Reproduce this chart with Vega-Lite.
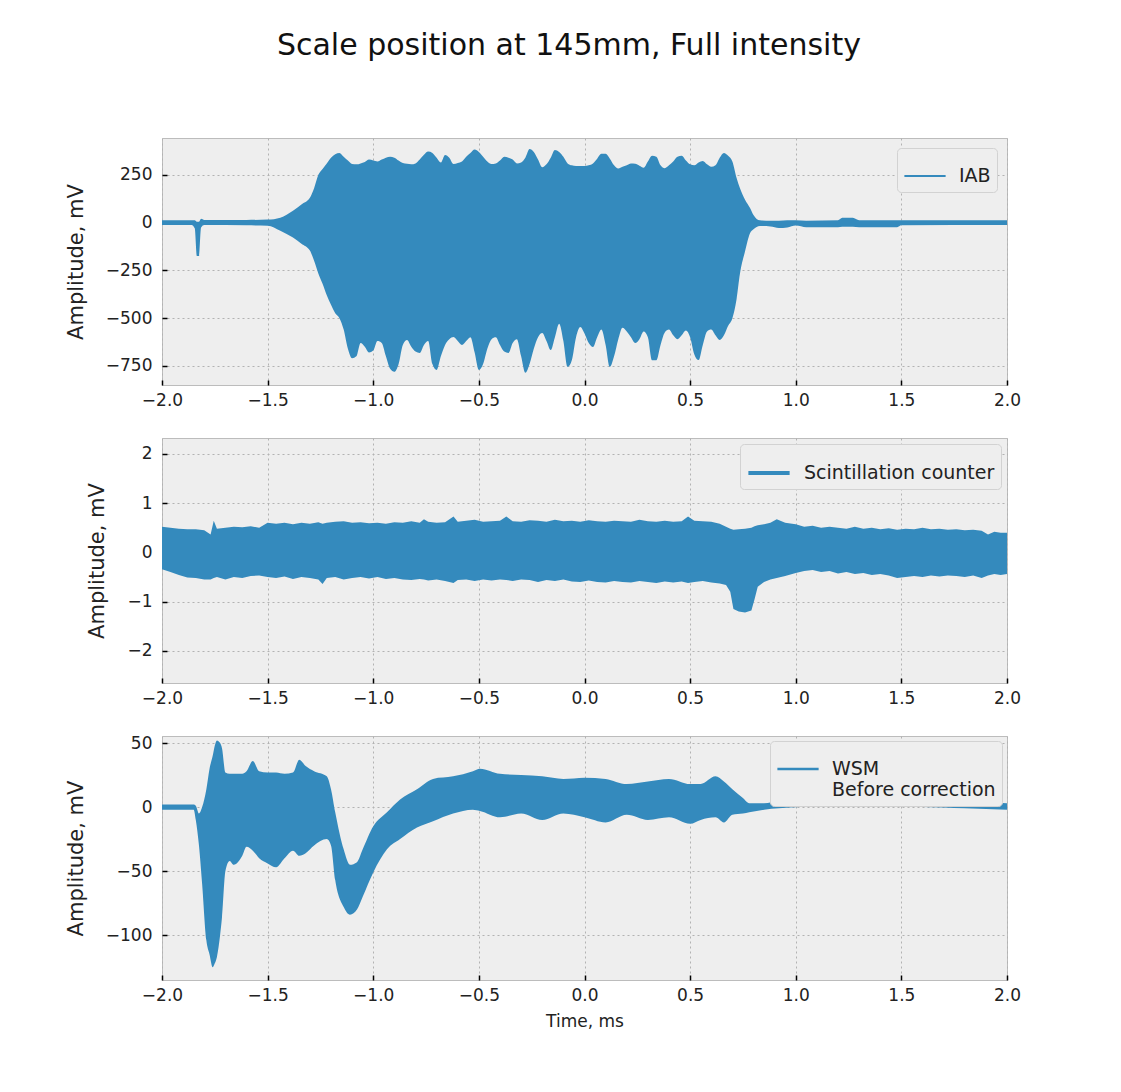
{
  "$schema": "https://vega.github.io/schema/vega-lite/v6.json",
  "background": "white",
  "padding": {"left": 64, "top": 30, "right": 30, "bottom": 40},
  "title": {"text": "Scale position at 145mm, Full intensity", "fontSize": 30, "font": "DejaVu Sans", "fontWeight": "normal", "anchor": "middle", "offset": 77, "dx": 26, "color": "#111"},
  "datasets": {
    "iab": [
      {"t": -2.00, "hi": 12, "lo": -12}, {"t": -1.86, "hi": 12, "lo": -12}, {"t": -1.845, "hi": 12, "lo": -30},
      {"t": -1.835, "hi": 5, "lo": -175}, {"t": -1.825, "hi": 5, "lo": -175}, {"t": -1.815, "hi": 20, "lo": -25},
      {"t": -1.80, "hi": 14, "lo": -12}, {"t": -1.60, "hi": 14, "lo": -14}, {"t": -1.50, "hi": 16, "lo": -16},
      {"t": -1.44, "hi": 26, "lo": -42}, {"t": -1.38, "hi": 62, "lo": -78}, {"t": -1.34, "hi": 95, "lo": -110},
      {"t": -1.30, "hi": 130, "lo": -146}, {"t": -1.28, "hi": 180, "lo": -200}, {"t": -1.26, "hi": 250, "lo": -266},
      {"t": -1.24, "hi": 281, "lo": -320}, {"t": -1.22, "hi": 310, "lo": -380}, {"t": -1.20, "hi": 340, "lo": -430},
      {"t": -1.18, "hi": 358, "lo": -474}, {"t": -1.16, "hi": 365, "lo": -500}, {"t": -1.14, "hi": 345, "lo": -560},
      {"t": -1.12, "hi": 325, "lo": -660}, {"t": -1.10, "hi": 307, "lo": -710}, {"t": -1.08, "hi": 305, "lo": -700},
      {"t": -1.06, "hi": 310, "lo": -630}, {"t": -1.04, "hi": 318, "lo": -650}, {"t": -1.02, "hi": 330, "lo": -680},
      {"t": -1.00, "hi": 325, "lo": -670}, {"t": -0.98, "hi": 320, "lo": -620}, {"t": -0.96, "hi": 330, "lo": -630},
      {"t": -0.94, "hi": 340, "lo": -700}, {"t": -0.92, "hi": 345, "lo": -765}, {"t": -0.90, "hi": 340, "lo": -781},
      {"t": -0.88, "hi": 325, "lo": -740}, {"t": -0.86, "hi": 312, "lo": -640}, {"t": -0.84, "hi": 308, "lo": -615},
      {"t": -0.82, "hi": 305, "lo": -650}, {"t": -0.80, "hi": 310, "lo": -675}, {"t": -0.78, "hi": 330, "lo": -682},
      {"t": -0.76, "hi": 355, "lo": -640}, {"t": -0.74, "hi": 372, "lo": -620}, {"t": -0.72, "hi": 365, "lo": -740},
      {"t": -0.70, "hi": 340, "lo": -771}, {"t": -0.68, "hi": 315, "lo": -700}, {"t": -0.66, "hi": 354, "lo": -640},
      {"t": -0.64, "hi": 340, "lo": -610}, {"t": -0.62, "hi": 307, "lo": -599}, {"t": -0.60, "hi": 312, "lo": -620},
      {"t": -0.58, "hi": 320, "lo": -640}, {"t": -0.56, "hi": 345, "lo": -620}, {"t": -0.54, "hi": 365, "lo": -600},
      {"t": -0.52, "hi": 383, "lo": -680}, {"t": -0.50, "hi": 370, "lo": -771}, {"t": -0.48, "hi": 345, "lo": -740},
      {"t": -0.46, "hi": 320, "lo": -660}, {"t": -0.44, "hi": 307, "lo": -610}, {"t": -0.42, "hi": 310, "lo": -600},
      {"t": -0.40, "hi": 325, "lo": -640}, {"t": -0.38, "hi": 345, "lo": -675}, {"t": -0.36, "hi": 340, "lo": -682},
      {"t": -0.34, "hi": 330, "lo": -630}, {"t": -0.32, "hi": 310, "lo": -610}, {"t": -0.30, "hi": 315, "lo": -700},
      {"t": -0.28, "hi": 340, "lo": -786}, {"t": -0.26, "hi": 385, "lo": -740}, {"t": -0.24, "hi": 370, "lo": -660},
      {"t": -0.22, "hi": 330, "lo": -600}, {"t": -0.20, "hi": 290, "lo": -578}, {"t": -0.18, "hi": 305, "lo": -620},
      {"t": -0.16, "hi": 340, "lo": -667}, {"t": -0.14, "hi": 380, "lo": -600}, {"t": -0.12, "hi": 370, "lo": -530},
      {"t": -0.10, "hi": 345, "lo": -620}, {"t": -0.08, "hi": 310, "lo": -755}, {"t": -0.06, "hi": 300, "lo": -720},
      {"t": -0.04, "hi": 297, "lo": -600}, {"t": -0.02, "hi": 297, "lo": -547}, {"t": 0.00, "hi": 297, "lo": -580},
      {"t": 0.02, "hi": 300, "lo": -630}, {"t": 0.04, "hi": 310, "lo": -651}, {"t": 0.06, "hi": 335, "lo": -600},
      {"t": 0.08, "hi": 360, "lo": -560}, {"t": 0.10, "hi": 360, "lo": -640}, {"t": 0.12, "hi": 335, "lo": -755},
      {"t": 0.14, "hi": 300, "lo": -700}, {"t": 0.16, "hi": 283, "lo": -610}, {"t": 0.18, "hi": 292, "lo": -550},
      {"t": 0.20, "hi": 300, "lo": -570}, {"t": 0.22, "hi": 310, "lo": -600}, {"t": 0.24, "hi": 308, "lo": -630},
      {"t": 0.26, "hi": 298, "lo": -610}, {"t": 0.28, "hi": 287, "lo": -570}, {"t": 0.30, "hi": 320, "lo": -600},
      {"t": 0.32, "hi": 350, "lo": -720}, {"t": 0.34, "hi": 345, "lo": -720}, {"t": 0.36, "hi": 300, "lo": -640},
      {"t": 0.38, "hi": 285, "lo": -575}, {"t": 0.40, "hi": 300, "lo": -560}, {"t": 0.42, "hi": 320, "lo": -590},
      {"t": 0.44, "hi": 345, "lo": -610}, {"t": 0.46, "hi": 350, "lo": -590}, {"t": 0.48, "hi": 325, "lo": -565},
      {"t": 0.50, "hi": 305, "lo": -600}, {"t": 0.52, "hi": 300, "lo": -690}, {"t": 0.54, "hi": 315, "lo": -719},
      {"t": 0.56, "hi": 323, "lo": -640}, {"t": 0.58, "hi": 305, "lo": -570}, {"t": 0.60, "hi": 292, "lo": -560},
      {"t": 0.62, "hi": 300, "lo": -590}, {"t": 0.64, "hi": 340, "lo": -615}, {"t": 0.66, "hi": 365, "lo": -590},
      {"t": 0.68, "hi": 350, "lo": -540}, {"t": 0.70, "hi": 320, "lo": -500}, {"t": 0.72, "hi": 234, "lo": -400},
      {"t": 0.736, "hi": 180, "lo": -266}, {"t": 0.76, "hi": 120, "lo": -150}, {"t": 0.783, "hi": 78, "lo": -57},
      {"t": 0.80, "hi": 40, "lo": -35}, {"t": 0.83, "hi": 12, "lo": -18}, {"t": 0.88, "hi": 10, "lo": -20},
      {"t": 0.92, "hi": 10, "lo": -28}, {"t": 0.96, "hi": 12, "lo": -25}, {"t": 1.00, "hi": 12, "lo": -15},
      {"t": 1.05, "hi": 10, "lo": -24}, {"t": 1.20, "hi": 12, "lo": -24}, {"t": 1.22, "hi": 25, "lo": -22},
      {"t": 1.27, "hi": 25, "lo": -22}, {"t": 1.30, "hi": 12, "lo": -24}, {"t": 1.48, "hi": 12, "lo": -24},
      {"t": 1.50, "hi": 12, "lo": -14}, {"t": 2.00, "hi": 12, "lo": -12}
    ],
    "sc": [
      {"t": -2.00, "hi": 0.52, "lo": -0.34}, {"t": -1.96, "hi": 0.50, "lo": -0.40}, {"t": -1.92, "hi": 0.48, "lo": -0.46},
      {"t": -1.88, "hi": 0.47, "lo": -0.51}, {"t": -1.84, "hi": 0.47, "lo": -0.52}, {"t": -1.80, "hi": 0.45, "lo": -0.55},
      {"t": -1.77, "hi": 0.36, "lo": -0.55}, {"t": -1.755, "hi": 0.64, "lo": -0.52}, {"t": -1.74, "hi": 0.48, "lo": -0.50},
      {"t": -1.70, "hi": 0.50, "lo": -0.55}, {"t": -1.66, "hi": 0.52, "lo": -0.50}, {"t": -1.62, "hi": 0.51, "lo": -0.52},
      {"t": -1.58, "hi": 0.53, "lo": -0.48}, {"t": -1.54, "hi": 0.50, "lo": -0.47}, {"t": -1.50, "hi": 0.60, "lo": -0.50},
      {"t": -1.46, "hi": 0.58, "lo": -0.52}, {"t": -1.42, "hi": 0.60, "lo": -0.49}, {"t": -1.38, "hi": 0.57, "lo": -0.54},
      {"t": -1.34, "hi": 0.60, "lo": -0.50}, {"t": -1.30, "hi": 0.58, "lo": -0.52}, {"t": -1.26, "hi": 0.61, "lo": -0.55},
      {"t": -1.24, "hi": 0.58, "lo": -0.64}, {"t": -1.22, "hi": 0.60, "lo": -0.52}, {"t": -1.18, "hi": 0.62, "lo": -0.50},
      {"t": -1.14, "hi": 0.63, "lo": -0.55}, {"t": -1.10, "hi": 0.60, "lo": -0.52}, {"t": -1.06, "hi": 0.61, "lo": -0.50},
      {"t": -1.02, "hi": 0.59, "lo": -0.53}, {"t": -0.98, "hi": 0.60, "lo": -0.50}, {"t": -0.94, "hi": 0.58, "lo": -0.54},
      {"t": -0.90, "hi": 0.61, "lo": -0.52}, {"t": -0.86, "hi": 0.60, "lo": -0.55}, {"t": -0.82, "hi": 0.63, "lo": -0.56},
      {"t": -0.78, "hi": 0.60, "lo": -0.54}, {"t": -0.76, "hi": 0.67, "lo": -0.55}, {"t": -0.74, "hi": 0.62, "lo": -0.57},
      {"t": -0.70, "hi": 0.60, "lo": -0.55}, {"t": -0.66, "hi": 0.61, "lo": -0.58}, {"t": -0.62, "hi": 0.73, "lo": -0.62},
      {"t": -0.60, "hi": 0.62, "lo": -0.56}, {"t": -0.56, "hi": 0.64, "lo": -0.55}, {"t": -0.52, "hi": 0.66, "lo": -0.58},
      {"t": -0.48, "hi": 0.62, "lo": -0.55}, {"t": -0.44, "hi": 0.63, "lo": -0.57}, {"t": -0.40, "hi": 0.64, "lo": -0.55},
      {"t": -0.37, "hi": 0.73, "lo": -0.56}, {"t": -0.34, "hi": 0.63, "lo": -0.58}, {"t": -0.30, "hi": 0.62, "lo": -0.55},
      {"t": -0.26, "hi": 0.65, "lo": -0.56}, {"t": -0.22, "hi": 0.64, "lo": -0.60}, {"t": -0.18, "hi": 0.62, "lo": -0.56},
      {"t": -0.14, "hi": 0.66, "lo": -0.58}, {"t": -0.10, "hi": 0.63, "lo": -0.55}, {"t": -0.06, "hi": 0.64, "lo": -0.59},
      {"t": -0.02, "hi": 0.62, "lo": -0.60}, {"t": 0.02, "hi": 0.65, "lo": -0.57}, {"t": 0.06, "hi": 0.63, "lo": -0.60},
      {"t": 0.10, "hi": 0.62, "lo": -0.61}, {"t": 0.14, "hi": 0.64, "lo": -0.58}, {"t": 0.18, "hi": 0.63, "lo": -0.60},
      {"t": 0.22, "hi": 0.62, "lo": -0.61}, {"t": 0.26, "hi": 0.66, "lo": -0.58}, {"t": 0.30, "hi": 0.63, "lo": -0.60},
      {"t": 0.34, "hi": 0.62, "lo": -0.62}, {"t": 0.38, "hi": 0.64, "lo": -0.59}, {"t": 0.42, "hi": 0.62, "lo": -0.61},
      {"t": 0.46, "hi": 0.63, "lo": -0.59}, {"t": 0.49, "hi": 0.73, "lo": -0.62}, {"t": 0.52, "hi": 0.64, "lo": -0.60},
      {"t": 0.56, "hi": 0.63, "lo": -0.58}, {"t": 0.60, "hi": 0.62, "lo": -0.61}, {"t": 0.64, "hi": 0.58, "lo": -0.63},
      {"t": 0.67, "hi": 0.52, "lo": -0.66}, {"t": 0.69, "hi": 0.48, "lo": -0.80}, {"t": 0.705, "hi": 0.46, "lo": -1.15},
      {"t": 0.73, "hi": 0.47, "lo": -1.20}, {"t": 0.76, "hi": 0.48, "lo": -1.22}, {"t": 0.79, "hi": 0.50, "lo": -1.18},
      {"t": 0.805, "hi": 0.53, "lo": -0.95}, {"t": 0.82, "hi": 0.55, "lo": -0.70}, {"t": 0.85, "hi": 0.57, "lo": -0.60},
      {"t": 0.88, "hi": 0.60, "lo": -0.55}, {"t": 0.91, "hi": 0.67, "lo": -0.52}, {"t": 0.95, "hi": 0.60, "lo": -0.48},
      {"t": 1.00, "hi": 0.57, "lo": -0.42}, {"t": 1.04, "hi": 0.52, "lo": -0.38}, {"t": 1.08, "hi": 0.54, "lo": -0.36},
      {"t": 1.12, "hi": 0.50, "lo": -0.40}, {"t": 1.16, "hi": 0.52, "lo": -0.38}, {"t": 1.20, "hi": 0.50, "lo": -0.43},
      {"t": 1.24, "hi": 0.48, "lo": -0.40}, {"t": 1.28, "hi": 0.52, "lo": -0.44}, {"t": 1.32, "hi": 0.48, "lo": -0.42},
      {"t": 1.36, "hi": 0.50, "lo": -0.46}, {"t": 1.40, "hi": 0.47, "lo": -0.44}, {"t": 1.44, "hi": 0.49, "lo": -0.47},
      {"t": 1.48, "hi": 0.46, "lo": -0.52}, {"t": 1.52, "hi": 0.48, "lo": -0.50}, {"t": 1.56, "hi": 0.47, "lo": -0.48},
      {"t": 1.60, "hi": 0.50, "lo": -0.50}, {"t": 1.64, "hi": 0.47, "lo": -0.47}, {"t": 1.68, "hi": 0.48, "lo": -0.49},
      {"t": 1.72, "hi": 0.46, "lo": -0.47}, {"t": 1.76, "hi": 0.47, "lo": -0.48}, {"t": 1.80, "hi": 0.45, "lo": -0.50},
      {"t": 1.84, "hi": 0.46, "lo": -0.47}, {"t": 1.88, "hi": 0.44, "lo": -0.52}, {"t": 1.91, "hi": 0.36, "lo": -0.47},
      {"t": 1.94, "hi": 0.42, "lo": -0.44}, {"t": 1.97, "hi": 0.40, "lo": -0.46}, {"t": 2.00, "hi": 0.40, "lo": -0.44}
    ],
    "wsm": [
      {"t": -2.00, "hi": 2, "lo": -2}, {"t": -1.85, "hi": 2, "lo": -2}, {"t": -1.84, "hi": 1, "lo": -10},
      {"t": -1.825, "hi": -5, "lo": -30}, {"t": -1.81, "hi": 0, "lo": -60}, {"t": -1.79, "hi": 14, "lo": -104},
      {"t": -1.775, "hi": 30, "lo": -115}, {"t": -1.76, "hi": 40, "lo": -125}, {"t": -1.75, "hi": 48, "lo": -122},
      {"t": -1.74, "hi": 52, "lo": -117}, {"t": -1.725, "hi": 50, "lo": -100}, {"t": -1.716, "hi": 46, "lo": -86},
      {"t": -1.70, "hi": 27, "lo": -50}, {"t": -1.68, "hi": 26, "lo": -42}, {"t": -1.66, "hi": 26, "lo": -45},
      {"t": -1.62, "hi": 26, "lo": -38}, {"t": -1.60, "hi": 28, "lo": -31}, {"t": -1.57, "hi": 36, "lo": -34},
      {"t": -1.54, "hi": 28, "lo": -40}, {"t": -1.50, "hi": 27, "lo": -44}, {"t": -1.46, "hi": 27, "lo": -47},
      {"t": -1.42, "hi": 26, "lo": -40}, {"t": -1.38, "hi": 27, "lo": -34}, {"t": -1.35, "hi": 37, "lo": -38},
      {"t": -1.32, "hi": 32, "lo": -36}, {"t": -1.28, "hi": 28, "lo": -30}, {"t": -1.22, "hi": 24, "lo": -25},
      {"t": -1.20, "hi": 14, "lo": -30}, {"t": -1.18, "hi": -4, "lo": -57}, {"t": -1.14, "hi": -33, "lo": -78},
      {"t": -1.11, "hi": -45, "lo": -84}, {"t": -1.077, "hi": -43, "lo": -80}, {"t": -1.05, "hi": -33, "lo": -70},
      {"t": -1.00, "hi": -15, "lo": -51}, {"t": -0.935, "hi": -4, "lo": -33}, {"t": -0.873, "hi": 6, "lo": -25},
      {"t": -0.793, "hi": 14, "lo": -16}, {"t": -0.717, "hi": 22, "lo": -11}, {"t": -0.622, "hi": 24, "lo": -5},
      {"t": -0.528, "hi": 28, "lo": -2}, {"t": -0.495, "hi": 30, "lo": -3}, {"t": -0.40, "hi": 26, "lo": -8},
      {"t": -0.30, "hi": 25, "lo": -5}, {"t": -0.20, "hi": 24, "lo": -10}, {"t": -0.10, "hi": 22, "lo": -5},
      {"t": 0.00, "hi": 23, "lo": -8}, {"t": 0.10, "hi": 22, "lo": -12}, {"t": 0.20, "hi": 18, "lo": -6},
      {"t": 0.30, "hi": 20, "lo": -10}, {"t": 0.40, "hi": 22, "lo": -8}, {"t": 0.50, "hi": 18, "lo": -13},
      {"t": 0.55, "hi": 18, "lo": -10}, {"t": 0.62, "hi": 24, "lo": -8}, {"t": 0.66, "hi": 20, "lo": -12},
      {"t": 0.70, "hi": 14, "lo": -6}, {"t": 0.75, "hi": 7, "lo": -5}, {"t": 0.78, "hi": 3, "lo": -4},
      {"t": 0.85, "hi": 3, "lo": -2}, {"t": 0.92, "hi": 5, "lo": -1}, {"t": 1.02, "hi": 7, "lo": 0},
      {"t": 1.20, "hi": 8, "lo": 1}, {"t": 1.40, "hi": 7, "lo": 0}, {"t": 1.60, "hi": 6, "lo": 0},
      {"t": 1.80, "hi": 5, "lo": -1}, {"t": 2.00, "hi": 3, "lo": -2}
    ]
  },
  "vconcat": [
    {
      "width": 845, "height": 247,
      "data": {"name": "iab"},
      "mark": {"type": "area", "clip": true, "interpolate": "monotone"},
      "encoding": {
        "x": {"field": "t", "type": "quantitative", "scale": {"domain": [-2, 2], "nice": false, "zero": false},
              "axis": {"title": null, "values": [-2, -1.5, -1, -0.5, 0, 0.5, 1, 1.5, 2], "format": ".1f", "labelFlush": false, "labelOverlap": false}},
        "y": {"field": "hi", "type": "quantitative", "scale": {"domain": [-850, 443], "nice": false, "zero": false},
              "axis": {"title": "Amplitude, mV", "values": [-750, -500, -250, 0, 250]}},
        "y2": {"field": "lo"},
        "color": {"datum": "IAB", "scale": {"range": ["#348ABD"]}, "legend": {"title": null, "symbolStrokeWidth": 2, "offset": 10}}
      }
    },
    {
      "width": 845, "height": 245,
      "data": {"name": "sc"},
      "mark": {"type": "area", "clip": true},
      "encoding": {
        "x": {"field": "t", "type": "quantitative", "scale": {"domain": [-2, 2], "nice": false, "zero": false},
              "axis": {"title": null, "values": [-2, -1.5, -1, -0.5, 0, 0.5, 1, 1.5, 2], "format": ".1f", "labelFlush": false, "labelOverlap": false}},
        "y": {"field": "hi", "type": "quantitative", "scale": {"domain": [-2.65, 2.32], "nice": false, "zero": false},
              "axis": {"title": "Amplitude, mV", "values": [-2, -1, 0, 1, 2]}},
        "y2": {"field": "lo"},
        "color": {"datum": "Scintillation counter", "scale": {"range": ["#348ABD"]}, "legend": {"title": null, "symbolStrokeWidth": 4, "offset": 6}}
      }
    },
    {
      "width": 845, "height": 244,
      "data": {"name": "wsm"},
      "mark": {"type": "area", "clip": true, "interpolate": "monotone"},
      "encoding": {
        "x": {"field": "t", "type": "quantitative", "scale": {"domain": [-2, 2], "nice": false, "zero": false},
              "axis": {"title": "Time, ms", "titleFontSize": 17, "values": [-2, -1.5, -1, -0.5, 0, 0.5, 1, 1.5, 2], "format": ".1f", "labelFlush": false, "labelOverlap": false}},
        "y": {"field": "hi", "type": "quantitative", "scale": {"domain": [-135, 55.5], "nice": false, "zero": false},
              "axis": {"title": "Amplitude, mV", "values": [-100, -50, 0, 50]}},
        "y2": {"field": "lo"},
        "color": {"datum": "WSM", "scale": {"range": ["#348ABD"]}, "legend": {"title": null, "symbolStrokeWidth": 2.5, "offset": 5, "labelExpr": "['WSM', 'Before correction']"}}
      }
    }
  ],
  "spacing": 53,
  "bounds": "flush",
  "resolve": {"scale": {"color": "independent"}, "legend": {"color": "independent"}},
  "config": {
    "font": "DejaVu Sans",
    "view": {"fill": "#eeeeee", "stroke": "#bcbcbc", "strokeWidth": 1},
    "axis": {"grid": true, "gridColor": "#b2b2b2", "gridDash": [2, 3], "gridWidth": 1, "domain": false,
             "tickColor": "#000", "tickSize": -5, "tickWidth": 1.5, "labelPadding": 15,
             "labelFontSize": 17, "labelColor": "#222", "titleFontSize": 21, "titleFontWeight": "normal", "titleColor": "#222", "titlePadding": 19},
    "axisX": {"labelPadding": 12, "titlePadding": 10},
    "legend": {"orient": "top-right", "fillColor": "#eeeeee", "strokeColor": "#d2d2d2", "cornerRadius": 4, "padding": 6,
               "labelFontSize": 19, "labelColor": "#222", "symbolType": "stroke", "symbolStrokeColor": "#348ABD",
               "symbolSize": 1700, "labelOffset": 12, "labelLimit": 320}
  }
}
